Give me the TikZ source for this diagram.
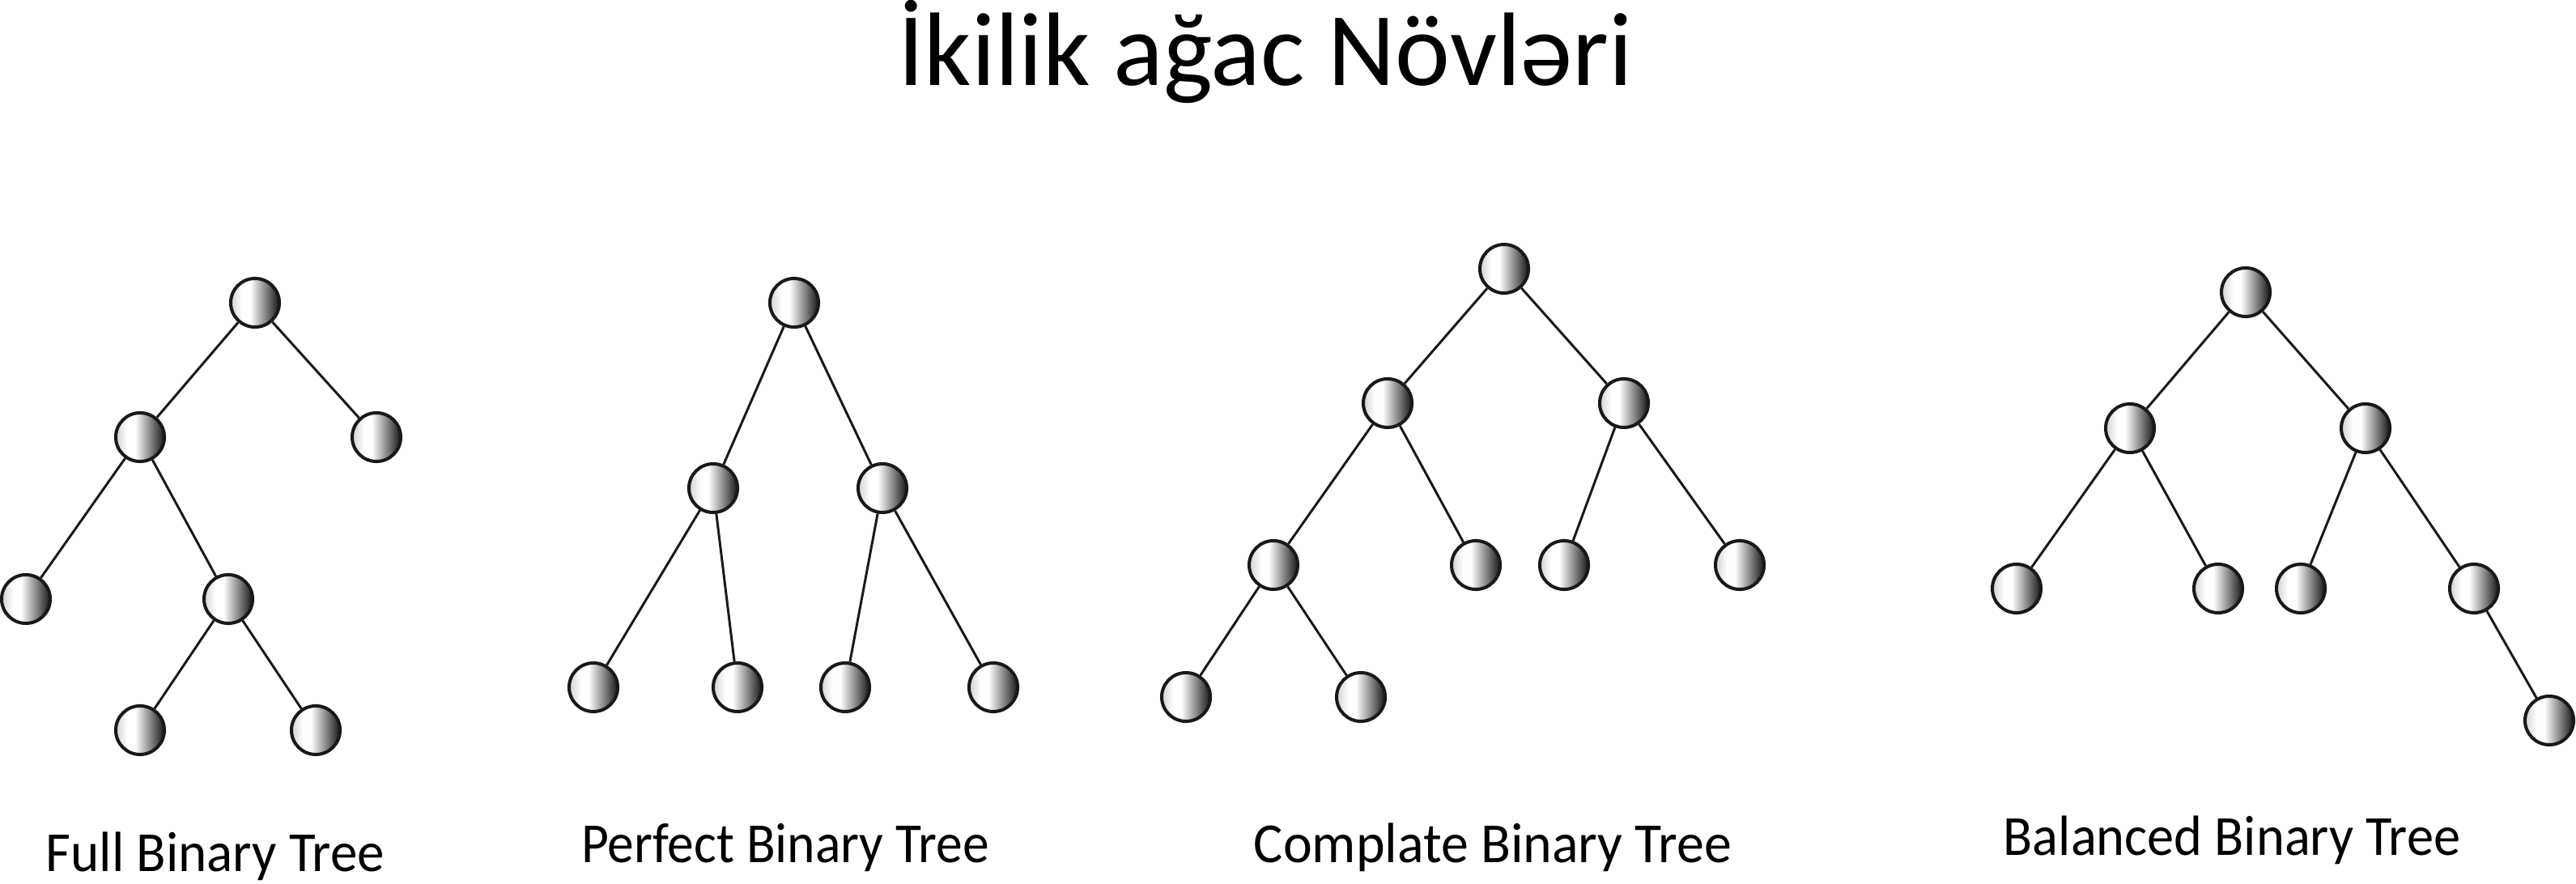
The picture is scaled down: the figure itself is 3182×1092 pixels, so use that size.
\documentclass[tikz,border=0pt]{standalone}
\usepackage{fontspec}
\setmainfont{Carlito}
\pgfdeclarehorizontalshading{ballshade}{100bp}{color(0bp)=(black!18); color(25bp)=(black!18); color(37bp)=(white); color(45bp)=(white); color(72bp)=(black!82); color(75bp)=(black!90); color(100bp)=(black!90)}
\tikzset{
  tn/.style={circle, draw=black!90, line width=1.15pt, minimum size=0.6cm, inner sep=0pt, shading=ballshade},
  edge/.style={draw=black!90, line width=0.85pt},
  lbl/.style={anchor=base, inner sep=0pt, font=\fontsize{19.9}{24}\selectfont},
  ttl/.style={anchor=base, inner sep=0pt, font=\fontsize{36.7}{44}\selectfont},
}
\begin{document}
\begin{tikzpicture}[x=0.01cm, y=-0.01cm]
\useasboundingbox (0,0) rectangle (3182,1092);
\fill[white] (0,0) rectangle (3182,1092);
% title
\node[ttl] (title) at (1563,106) {\resizebox{9.07cm}{\height}{İkilik ağac Növləri}};
% Tree 1: Full
\node[tn] (a0) at (315,374) {};
\node[tn] (a1) at (173,540) {};
\node[tn] (a2) at (465,540) {};
\node[tn] (a3) at (32,740) {};
\node[tn] (a4) at (282,740) {};
\node[tn] (a5) at (173,902) {};
\node[tn] (a6) at (390,902) {};
\draw[edge] (a0) -- (a1) (a0) -- (a2) (a1) -- (a3) (a1) -- (a4) (a4) -- (a5) (a4) -- (a6);
% Tree 2: Perfect
\node[tn] (b0) at (981,374) {};
\node[tn] (b1) at (881,603) {};
\node[tn] (b2) at (1090,603) {};
\node[tn] (b3) at (733,849) {};
\node[tn] (b4) at (911,849) {};
\node[tn] (b5) at (1044,849) {};
\node[tn] (b6) at (1227,849) {};
\draw[edge] (b0) -- (b1) (b0) -- (b2) (b1) -- (b3) (b1) -- (b4) (b2) -- (b5) (b2) -- (b6);
% Tree 3: Complete
\node[tn] (c0) at (1858,332) {};
\node[tn] (c1) at (1714,498) {};
\node[tn] (c2) at (2006,498) {};
\node[tn] (c3) at (1573,698) {};
\node[tn] (c4) at (1823,698) {};
\node[tn] (c5) at (1932,698) {};
\node[tn] (c6) at (2149,698) {};
\node[tn] (c7) at (1465,861) {};
\node[tn] (c8) at (1681,861) {};
\draw[edge] (c0) -- (c1) (c0) -- (c2) (c1) -- (c3) (c1) -- (c4) (c2) -- (c5) (c2) -- (c6) (c3) -- (c7) (c3) -- (c8);
% Tree 4: Balanced
\node[tn] (d0) at (2774,361) {};
\node[tn] (d1) at (2631,529) {};
\node[tn] (d2) at (2922,529) {};
\node[tn] (d3) at (2491,727) {};
\node[tn] (d4) at (2740,727) {};
\node[tn] (d5) at (2842,727) {};
\node[tn] (d6) at (3056,727) {};
\node[tn] (d7) at (3149,890) {};
\draw[edge] (d0) -- (d1) (d0) -- (d2) (d1) -- (d3) (d1) -- (d4) (d2) -- (d5) (d2) -- (d6) (d6) -- (d7);
% labels
\node[lbl] (la) at (266,1077) {\resizebox{4.18cm}{\height}{Full Binary Tree}};
\node[lbl] (lb) at (970,1065) {\resizebox{5.03cm}{\height}{Perfect Binary Tree}};
\node[lbl] (lc) at (1844,1065) {\resizebox{5.90cm}{\height}{Complate Binary Tree}};
\node[lbl] (ld) at (2757,1056) {\resizebox{5.64cm}{\height}{Balanced Binary Tree}};
\end{tikzpicture}
\end{document}
